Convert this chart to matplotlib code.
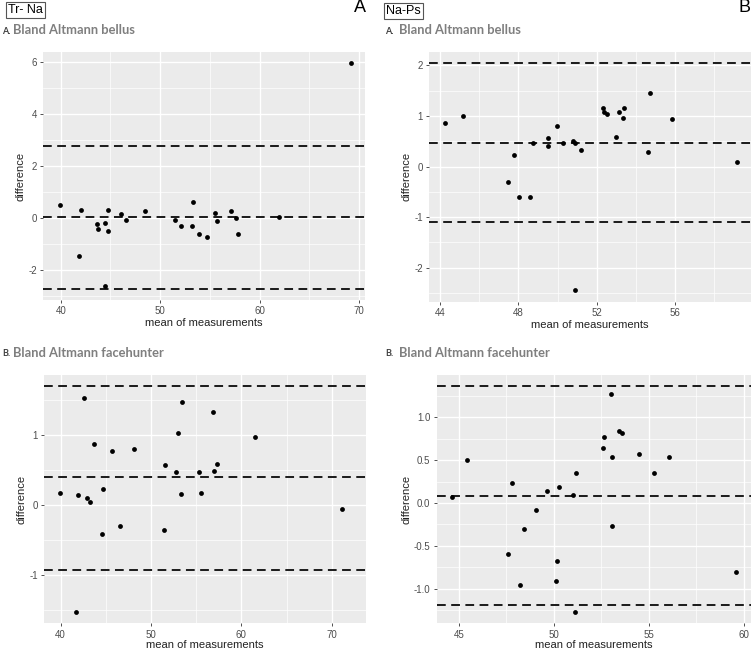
import matplotlib
matplotlib.use("Agg")
import matplotlib.pyplot as plt
import numpy as np

# === Data ===
# Tr-Na, bellus
tn_bel_mean = [39.97, 41.87, 42.03, 43.6, 43.77, 44.43, 44.47, 44.8, 44.8, 46.07, 46.53, 48.47,
               51.47, 52.07, 53.2, 53.27, 53.87, 54.67, 55.53, 55.73, 57.07, 57.63, 57.83, 61.97, 69.13]
tn_bel_diff = [0.51, -1.44, 0.32, -0.22, -0.42, -0.17, -2.59, 0.31, -0.49, 0.15, -0.05, 0.29,
               -0.08, -0.28, -0.28, 0.64, -0.6, -0.72, 0.22, -0.1, 0.27, 0.01, -0.59, 0.06, 5.96]
tn_bel_lines = [2.78, 0.05, -2.72]

# Na-Ps, bellus
np_bel_mean = [44.24, 45.19, 47.46, 47.8, 48.03, 48.6, 48.75, 49.5, 49.5, 49.96, 50.28, 50.81, 50.89,
               50.89, 51.2, 52.34, 52.39, 52.54, 52.99, 53.12, 53.33, 53.41, 54.6, 54.71, 55.83, 59.15]
np_bel_diff = [0.87, 1.0, -0.30, 0.22, -0.61, -0.61, 0.47, 0.56, 0.41, 0.80, 0.47, 0.50, 0.47,
               -2.43, 0.32, 1.16, 1.08, 1.03, 0.59, 1.08, 0.96, 1.16, 0.29, 1.45, 0.94, 0.10]
np_bel_lines = [2.05, 0.46, -1.10]

# Tr-Na, facehunter
tn_fh_mean = [39.89, 42.62, 41.96, 41.7, 42.95, 43.28, 43.69, 44.54, 44.69, 45.68, 46.53, 48.08,
              51.48, 51.55, 52.73, 52.95, 53.36, 53.47, 55.31, 55.54, 56.86, 56.97, 57.31, 61.51, 71.14]
tn_fh_diff = [0.17, 1.53, 0.15, -1.53, 0.11, 0.04, 0.88, -0.41, 0.23, 0.77, -0.30, 0.80,
              -0.36, 0.58, 0.48, 1.03, 0.16, 1.48, 0.48, 0.17, 1.33, 0.49, 0.59, 0.98, -0.05]
tn_fh_lines = [1.71, 0.40, -0.92]

# Na-Ps, facehunter
np_fh_mean = [44.61, 45.44, 47.59, 47.78, 48.19, 48.42, 49.05, 49.64, 50.1, 50.15, 50.27, 51.0, 51.11,
              51.16, 52.58, 52.65, 53.02, 53.06, 53.06, 53.42, 53.56, 54.47, 55.26, 56.03, 59.59]
np_fh_diff = [0.074, 0.50, -0.59, 0.23, -0.955, -0.30, -0.085, 0.144, -0.91, -0.68, 0.186, 0.09, -1.27,
              0.35, 0.64, 0.765, 1.27, 0.53, -0.27, 0.84, 0.81, 0.57, 0.35, 0.54, -0.80]
np_fh_lines = [1.365, 0.085, -1.19]

W, H = 751, 650
fig = plt.figure(figsize=(W / 100, H / 100), dpi=100)
fig.patch.set_facecolor("white")
plt.rcParams["font.family"] = ["Liberation Sans", "DejaVu Sans"]


def px_axes(left, top, right, bottom):
    return fig.add_axes([left / W, 1 - bottom / H, (right - left) / W, (bottom - top) / H])


def ba_panel(ax, xs, ys, lines, xlim, ylim, xmaj, xmin, ymaj, ymin, yfmt, xpad):
    ax.set_facecolor("#EBEBEB")
    for s in ax.spines.values():
        s.set_visible(False)
    ax.set_xticks(xmaj)
    ax.set_yticks(ymaj)
    ax.set_xticks(xmin, minor=True)
    ax.set_yticks(ymin, minor=True)
    ax.set_yticklabels([yfmt.format(v) for v in ymaj])
    ax.grid(True, which="major", color="white", linewidth=1.0)
    ax.grid(True, which="minor", color="white", linewidth=0.5)
    ax.set_axisbelow(True)
    ax.tick_params(which="major", length=2.5, width=0.6, color="#333333",
                   labelsize=7, labelcolor="#4D4D4D", pad=2)
    ax.tick_params(which="minor", length=0)
    # mean difference and limits of agreement
    for v in lines:
        ax.axhline(v, color="#1a1a1a", linewidth=1.4, linestyle=(0, (4.5, 2.8)), zorder=2)
    ax.scatter(xs, ys, s=12, color="black", zorder=3, linewidths=0)
    ax.set_xlim(*xlim)
    ax.set_ylim(*ylim)
    ax.set_xlabel("mean of measurements", fontsize=8, color="#222222", labelpad=xpad)
    ax.set_ylabel("difference", fontsize=8, color="#222222", labelpad=2)


ax1 = px_axes(43.3, 52, 365, 300)
ba_panel(ax1, tn_bel_mean, tn_bel_diff, tn_bel_lines, (38.25, 70.58), (-3.14, 6.4),
         [40, 50, 60, 70], [45, 55, 65], [-2, 0, 2, 4, 6], [-3, -1, 1, 3, 5], "{:g}", 1.5)

ax2 = px_axes(429.3, 51.7, 751, 301.7)
ba_panel(ax2, np_bel_mean, np_bel_diff, np_bel_lines, (43.45, 59.88), (-2.67, 2.27),
         [44, 48, 52, 56], [46, 50, 54, 58], [-2, -1, 0, 1, 2], [-2.5, -1.5, -0.5, 0.5, 1.5], "{:g}", 1.5)

ax3 = px_axes(44.3, 375, 365.7, 623.3)
ba_panel(ax3, tn_fh_mean, tn_fh_diff, tn_fh_lines, (38.19, 73.76), (-1.69, 1.864),
         [40, 50, 60, 70], [45, 55, 65], [-1, 0, 1], [-1.5, -0.5, 0.5, 1.5], "{:g}", 0)

ax4 = px_axes(436.7, 375, 751, 623.3)
ba_panel(ax4, np_fh_mean, np_fh_diff, np_fh_lines, (43.83, 60.37), (-1.40, 1.49),
         [45, 50, 55, 60], [47.5, 52.5, 57.5], [-1.0, -0.5, 0.0, 0.5, 1.0],
         [-1.25, -0.75, -0.25, 0.25, 0.75, 1.25], "{:.1f}", 0)

# === Headers ===
box = dict(boxstyle="square,pad=0.18", facecolor="white", edgecolor="#555555", linewidth=0.8)
fig.text(8 / W, 1 - 10 / H, "Tr- Na", fontsize=9, va="center", ha="left", bbox=box)
fig.text(386 / W, 1 - 11 / H, "Na-Ps", fontsize=9, va="center", ha="left", bbox=box)
fig.text(366 / W, 1 - 8 / H, "A", fontsize=13, va="center", ha="right")
fig.text(751 / W, 1 - 8 / H, "B", fontsize=13, va="center", ha="right")

sub_kw = dict(fontsize=9.3, fontweight="bold", color="#7F7F7F", va="center", ha="left",
              family=["Lato", "DejaVu Sans"])
pre_kw = dict(fontsize=6.5, fontweight="bold", color="#404040", va="center", ha="left",
              family=["Lato", "DejaVu Sans"])
for (xp, xt, y0, label, txt) in [(2, 13, 30, "A.", "Bland Altmann bellus"),
                                 (385, 399, 30, "A.", "Bland Altmann bellus"),
                                 (2, 13, 353, "B.", "Bland Altmann facehunter"),
                                 (385, 399, 353, "B.", "Bland Altmann facehunter")]:
    fig.text(xp / W, 1 - (y0 + 1) / H, label, **pre_kw)
    fig.text(xt / W, 1 - y0 / H, txt, **sub_kw)

plt.savefig("out.png", dpi=100)
